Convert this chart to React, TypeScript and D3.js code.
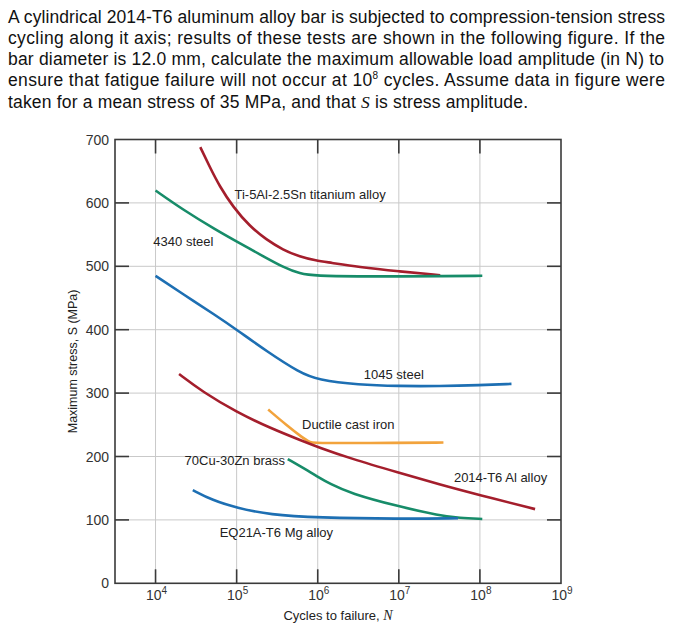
import React from "react";
import * as d3 from "d3";

// ---------- data ----------
const xTickExponents = [4, 5, 6, 7, 8, 9];
const yTicks = [0, 100, 200, 300, 400, 500, 600, 700];

const tiCycles = [3.56e4, 4.65e4, 6.17e4, 9.0e4, 1.45e5, 2.33e5, 3.72e5, 6.03e5, 9.55e5, 1.41e6, 3.16e6, 1e7, 3.24e7];
const tiStress = [688, 657, 626, 594, 563, 542, 526, 515, 509, 506, 499, 492, 486];

const s4340Cycles = [1e4, 2.19e4, 5.62e4, 1e5, 2.34e5, 3.72e5, 6.03e5, 9.55e5, 3.16e6, 1e7, 3.16e7, 1.07e8];
const s4340Stress = [619.5, 589, 557, 539, 513, 499, 488, 485, 484, 484, 484.5, 485];

const s1045Cycles = [1e4, 2.19e4, 5.62e4, 1e5, 2.34e5, 6.03e5, 1e6, 3.16e6, 1e7, 3.16e7, 1e8, 2.45e8];
const s1045Stress = [485, 456, 422, 400, 366, 332, 321, 313, 311, 311, 312.5, 314.5];

const alCycles = [1.95e4, 3.8e4, 1e5, 2.57e5, 6.6e5, 1e6, 2.51e6, 1e7, 3.16e7, 1e8, 4.79e8];
const alStress = [330, 302, 270, 245, 224, 215, 197, 174.5, 156, 139, 117];

const ironCycles = [2.45e5, 4.07e5, 6.6e5, 8.0e5, 1.0e6, 1e7, 3.55e7];
const ironStress = [274, 250, 229, 222, 221, 221.5, 222];

const brassCycles = [4.27e5, 7.94e5, 1e6, 1.41e6, 2.51e6, 1e7, 3.16e7, 5.62e7, 1.07e8];
const brassStress = [196, 176, 168, 157, 142, 121, 107, 103, 101.5];

const mgCycles = [2.88e4, 5.01e4, 1e5, 2.57e5, 1e6, 1e7, 5.37e7];
const mgStress = [147, 131, 119, 108, 103.5, 101.5, 102.5];

const seriesNames = ["Ti-5Al-2.5Sn titanium alloy", "4340 steel", "1045 steel", "Ductile cast iron", "2014-T6 Al alloy", "70Cu-30Zn brass", "EQ21A-T6 Mg alloy"];
const seriesColors = ["#a41e2c", "#178c69", "#1d6fb3", "#f2a33c", "#a41e2c", "#178c69", "#1d6fb3"];
const seriesCycles = [tiCycles, s4340Cycles, s1045Cycles, ironCycles, alCycles, brassCycles, mgCycles];
const seriesStress = [tiStress, s4340Stress, s1045Stress, ironStress, alStress, brassStress, mgStress];

// label anchor points (data coordinates)
const labelCycles = [9.4e4, 9.4e3, 3.7e6, 6.4e5, 4.78e7, 2.28e4, 6.17e4];
const labelStress = [606, 532, 322.4, 243.5, 160.3, 186.7, 73.5];

// ---------- layout ----------
const W = 689;
const H = 641;
const left = 115, right = 561, top = 139.5, bottom = 583.3;

export default function App() {
  const x = d3.scaleLog().domain([Math.pow(10, 3.5), 1e9]).range([left, right]);
  const y = d3.scaleLinear().domain([0, 700]).range([bottom, top]);

  const line = d3
    .line<[number, number]>()
    .x((d) => x(d[0]))
    .y((d) => y(d[1]))
    .curve(d3.curveBasis);

  const textFont = "'Liberation Sans', Arial, Helvetica, sans-serif";
  const serif = "'Liberation Serif', 'Times New Roman', serif";
  const tickLen = 14;

  return (
    <svg
      width={W}
      height={H}
      style={{ position: "absolute", left: 0, top: 0, background: "#fff" }}
      fontFamily={textFont}
    >
      {/* header */}
      <g fontSize={17.5} fill="#111" style={{ whiteSpace: "pre" }}>
        <text x={8} y={22.7} textLength={657} lengthAdjust="spacing">
          A cylindrical 2014-T6 aluminum alloy bar is subjected to compression-tension stress
        </text>
        <text x={8} y={44.2} textLength={657} lengthAdjust="spacing">
          cycling along it axis; results of these tests are shown in the following figure.  If the
        </text>
        <text x={8} y={65.4} textLength={656} lengthAdjust="spacing">
          bar diameter is 12.0 mm, calculate the maximum allowable load amplitude (in N) to
        </text>
        <text x={8} y={86.4} textLength={657} lengthAdjust="spacing">
          {"ensure that fatigue failure will not occur at 10"}
          <tspan fontSize={10} dy={-7}>8</tspan>
          <tspan dy={7}>{" cycles.  Assume data in figure were"}</tspan>
        </text>
        <text x={8} y={107.5} textLength={520} lengthAdjust="spacing">
          {"taken for a mean stress of 35 MPa, and that "}
          <tspan fontFamily={serif} fontStyle="italic">S</tspan>
          {" is stress amplitude."}
        </text>
      </g>

      {/* grid */}
      <g stroke="#c9c9c9" strokeWidth={1}>
        {xTickExponents.slice(0, -1).map((e) => (
          <line key={"gx" + e} x1={x(Math.pow(10, e))} x2={x(Math.pow(10, e))} y1={top} y2={bottom} />
        ))}
        {yTicks.slice(1, -1).map((v) => (
          <line key={"gy" + v} x1={left} x2={right} y1={y(v)} y2={y(v)} />
        ))}
      </g>

      {/* ticks */}
      <g stroke="#3a3a3a" strokeWidth={1.6}>
        {xTickExponents.slice(0, -1).map((e) => (
          <g key={"tx" + e}>
            <line x1={x(Math.pow(10, e))} x2={x(Math.pow(10, e))} y1={bottom} y2={bottom - tickLen} />
            <line x1={x(Math.pow(10, e))} x2={x(Math.pow(10, e))} y1={top} y2={top + tickLen} />
          </g>
        ))}
        {yTicks.slice(1, -1).map((v) => (
          <g key={"ty" + v}>
            <line x1={left} x2={left + tickLen} y1={y(v)} y2={y(v)} />
            <line x1={right} x2={right - tickLen} y1={y(v)} y2={y(v)} />
          </g>
        ))}
      </g>

      {/* series */}
      <g fill="none" strokeWidth={2.6} strokeLinecap="butt">
        {seriesNames.map((name, i) => (
          <path
            key={name}
            d={line(seriesCycles[i].map((c, j) => [c, seriesStress[i][j]] as [number, number])) || ""}
            stroke={seriesColors[i]}
          />
        ))}
      </g>

      {/* frame */}
      <rect x={left} y={top} width={right - left} height={bottom - top} fill="none" stroke="#3a3a3a" strokeWidth={1.6} />

      {/* series labels */}
      <g fontSize={13} fill="#222">
        {seriesNames.map((name, i) => (
          <text key={"l" + name} x={x(labelCycles[i])} y={y(labelStress[i])}>
            {name}
          </text>
        ))}
      </g>

      {/* y tick labels */}
      <g fontSize={14} fill="#333" textAnchor="end">
        {yTicks.map((v) => (
          <text key={"yl" + v} x={109} y={y(v)} dy="0.36em">
            {v}
          </text>
        ))}
      </g>

      {/* x tick labels */}
      <g fontSize={14} fill="#333" textAnchor="middle">
        {xTickExponents.map((e) => (
          <text key={"xl" + e} x={x(Math.pow(10, e)) + 1} y={600}>
            10
            <tspan fontSize={10} dy={-6}>{e}</tspan>
          </text>
        ))}
      </g>

      {/* axis titles */}
      <text x={338} y={620} fontSize={13} fill="#222" textAnchor="middle">
        {"Cycles to failure, "}
        <tspan fontFamily={serif} fontStyle="italic" fontSize={14}>N</tspan>
      </text>
      <text
        transform={`translate(77, ${(top + bottom) / 2}) rotate(-90)`}
        fontSize={12.5}
        fill="#222"
        textAnchor="middle"
      >
        Maximum stress, S (MPa)
      </text>
    </svg>
  );
}
